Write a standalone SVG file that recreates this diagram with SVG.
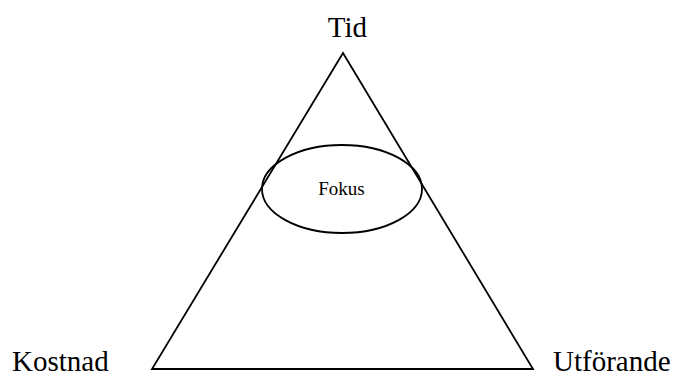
<svg xmlns="http://www.w3.org/2000/svg" width="676" height="377" viewBox="0 0 676 377">
<style>
.shape{fill:none;stroke:#000;stroke-width:1.8}
.lbl{font-family:"Liberation Serif",serif;font-size:29px;fill:#000}
.small{font-family:"Liberation Serif",serif;font-size:19px;fill:#000}
</style>
<rect width="676" height="377" fill="#fff"/>
<g id="connectors">
<polygon class="shape" points="343,53 152,369 533,369"/>
</g>
<g id="fokus">
<ellipse class="shape" cx="342" cy="189" rx="80" ry="44"/>
<text class="small" x="341.5" y="195" text-anchor="middle">Fokus</text>
</g>
<g id="tid"><text class="lbl" x="347.5" y="37" text-anchor="middle">Tid</text></g>
<g id="kostnad"><text class="lbl" x="12" y="371">Kostnad</text></g>
<g id="utforande"><text class="lbl" x="553" y="371">Utförande</text></g>
</svg>
